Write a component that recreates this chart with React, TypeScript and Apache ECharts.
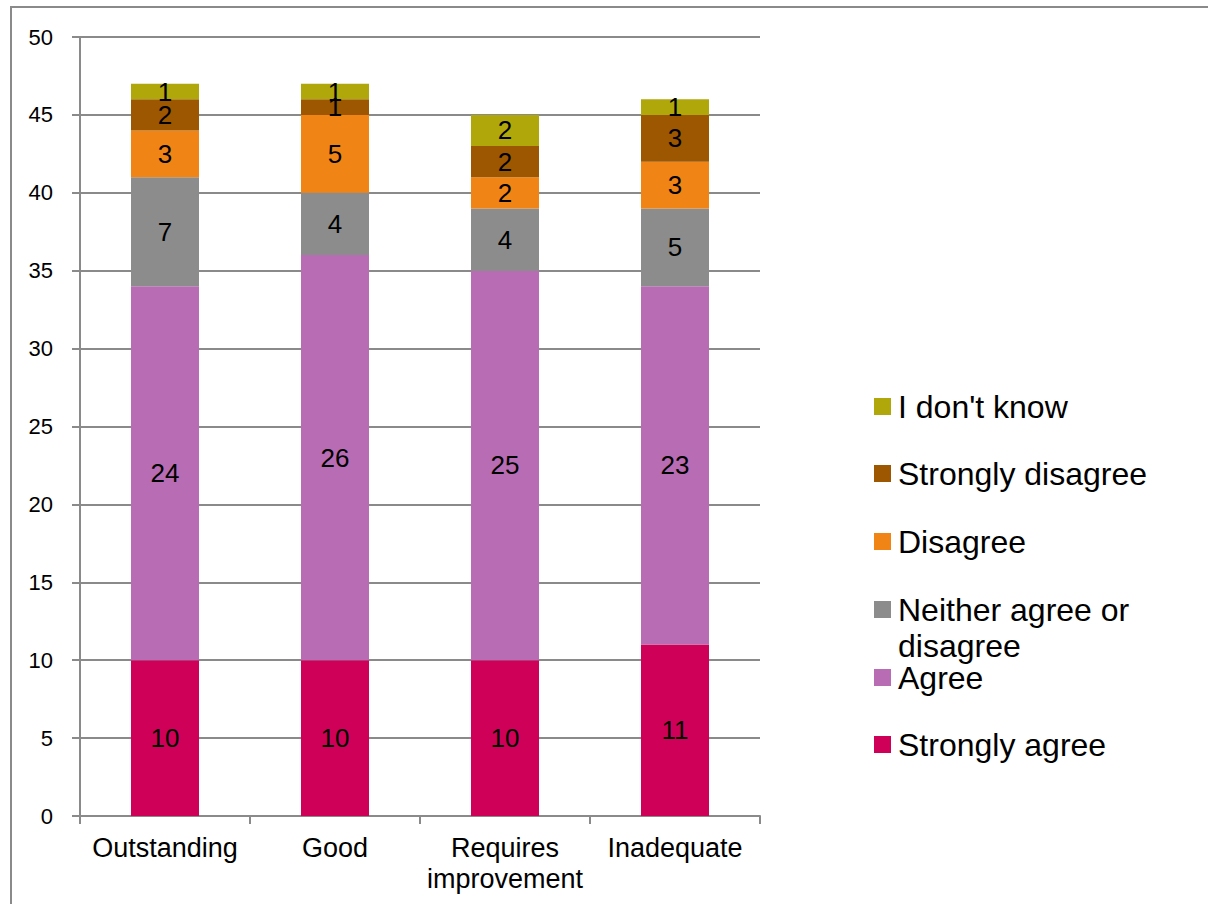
import React, { useEffect, useRef } from "react";
import * as echarts from "echarts";

const categories = ["Outstanding", "Good", "Requires\nimprovement", "Inadequate"];
const seriesNames = [
  "Strongly agree",
  "Agree",
  "Neither agree or disagree",
  "Disagree",
  "Strongly disagree",
  "I don't know",
];
const stronglyAgree = [10, 10, 10, 11];
const agree = [24, 26, 25, 23];
const neither = [7, 4, 4, 5];
const disagree = [3, 5, 2, 3];
const stronglyDisagree = [2, 1, 2, 3];
const dontKnow = [1, 1, 2, 1];
const seriesValues = [stronglyAgree, agree, neither, disagree, stronglyDisagree, dontKnow];
const colors = ["#CE0058", "#B86CB4", "#8C8C8C", "#F08515", "#9C5700", "#B0A80A"];
const legendLabels: Record<string, string> = {
  "Neither agree or disagree": " \nNeither agree or\ndisagree",
};

const FONT = "'Liberation Sans', Arial, sans-serif";

export default function App() {
  const ref = useRef<HTMLDivElement>(null);
  useEffect(() => {
    if (!ref.current) return;
    const chart = echarts.init(ref.current, null, { renderer: "svg" });
    // legend centres (top to bottom): I don't know ... Strongly agree
    const legendOrder = [...seriesNames].reverse();
    const centers = [406.5, 473.5, 541.5, 609.5, 677.5, 744.5];
    const legends = legendOrder.map((name, i) => {
      const multi = !!legendLabels[name];
      return {
        orient: "vertical",
        left: 874,
        top: multi ? centers[i] - 54 : centers[i] - 18,
        padding: 0,
        itemWidth: 17,
        itemHeight: 17,
        itemGap: 0,
        selectedMode: false,
        icon: "rect",
        data: [name],
        formatter: (n: string) => legendLabels[n] || n,
        textStyle: {
          fontFamily: FONT,
          fontSize: 32,
          color: "#000",
          lineHeight: 36,
          padding: [0, 0, 0, 2],
        },
      };
    });
    chart.setOption({
      animation: false,
      color: colors,
      textStyle: { fontFamily: FONT },
      graphic: [
        {
          type: "rect",
          shape: { x: 11, y: 7, width: 1400, height: 1100 },
          style: { fill: "none", stroke: "#8a8a8a", lineWidth: 2 },
          silent: true,
        },
      ],
      legend: legends,
      grid: { left: 80, right: 448, top: 37, bottom: 88, containLabel: false },
      xAxis: {
        type: "category",
        data: categories,
        axisLine: { show: true, lineStyle: { color: "#8a8a8a", width: 2 } },
        axisTick: { show: true, length: 8, lineStyle: { color: "#8a8a8a", width: 2 } },
        axisLabel: {
          fontFamily: FONT,
          fontSize: 27,
          color: "#000",
          lineHeight: 31,
          margin: 16,
          interval: 0,
        },
      },
      yAxis: {
        type: "value",
        min: 0,
        max: 50,
        interval: 5,
        axisLine: { show: true, lineStyle: { color: "#8a8a8a", width: 2 } },
        axisTick: { show: true, length: 8, lineStyle: { color: "#8a8a8a", width: 2 } },
        splitLine: { show: true, lineStyle: { color: "#8a8a8a", width: 2 } },
        axisLabel: {
          fontFamily: FONT,
          fontSize: 22,
          color: "#000",
          margin: 27,
        },
      },
      series: seriesNames.map((name, i) => ({
        name,
        type: "bar",
        stack: "total",
        barWidth: "40%",
        data: seriesValues[i],
        itemStyle: { color: colors[i] },
        label: {
          show: true,
          position: "inside",
          fontFamily: FONT,
          fontSize: 26,
          color: "#000",
        },
      })),
    });
    return () => chart.dispose();
  }, []);
  return (
    <div
      ref={ref}
      style={{ position: "absolute", left: 0, top: 0, width: 1208, height: 904, background: "#fff" }}
    />
  );
}
